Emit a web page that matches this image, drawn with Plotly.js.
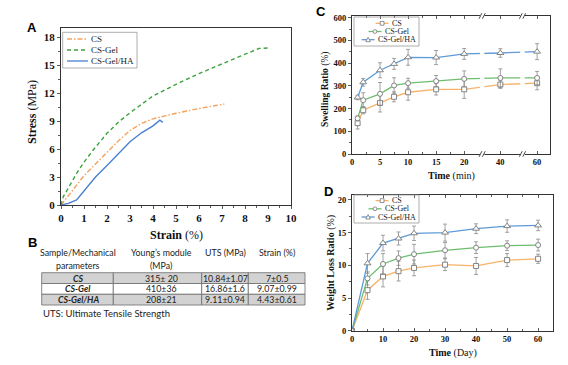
<!DOCTYPE html>
<html><head><meta charset="utf-8">
<script src="https://cdn.plot.ly/plotly-3.0.1.min.js"></script>
<style>html,body{margin:0;padding:0;background:#fff}#chart{width:568px;height:365px}</style>
</head><body><div id="chart"></div>
<script>
// ---------- Panel A: stress-strain ----------
const seriesNames = ['CS', 'CS-Gel', 'CS-Gel/HA'];
const strainCS  = [0, 0.17, 0.5, 1, 1.26, 1.5, 2, 2.5, 3, 3.5, 4, 5, 6, 7, 7.1];
const stressCS  = [0, 0.5, 1.55, 3.15, 3.8, 4.4, 5.6, 6.9, 8.0, 8.75, 9.25, 9.85, 10.35, 10.75, 10.84];
const strainGel = [0, 0.1, 0.5, 0.68, 1, 1.4, 2, 2.5, 3, 3.5, 4, 5, 6, 7, 8, 8.6, 9.07];
const stressGel = [0, 0.9, 2.6, 3.4, 4.6, 5.9, 7.7, 8.9, 9.9, 10.85, 11.7, 12.95, 14.1, 15.15, 16.15, 16.8, 16.86];
const strainHA  = [0, 0.32, 0.68, 1, 1.26, 1.5, 2, 2.64, 3, 3.5, 4, 4.3, 4.38, 4.43];
const stressHA  = [0, 0.18, 0.54, 1.5, 2.34, 3.0, 4.25, 5.9, 6.8, 7.75, 8.5, 9.11, 9.0, 8.85];

// ---------- Panel C: swelling ratio ----------
const swellTime  = [1, 2, 5, 7.5, 10, 15, 20, 40, 60];
const swellTicks = [0, 5, 10, 15, 20, 40, 60];
const swellCS     = [136, 193, 225, 252, 272, 285, 285, 306, 312];
const swellCSErr  = [26, 16, 40, 22, 35, 25, 40, 17, 29];
const swellGel    = [157, 237, 265, 302, 312, 321, 331, 335, 335];
const swellGelErr = [11, 33, 50, 34, 22, 25, 35, 40, 29];
const swellHA     = [249, 316, 369, 397, 426, 425, 441, 445, 451];
const swellHAErr  = [10, 17, 33, 24, 35, 31, 24, 19, 35];

// ---------- Panel D: weight loss ----------
const lossTime   = [0, 5, 10, 15, 20, 30, 40, 50, 60];
const lossCS     = [0, 6.2, 8.3, 9.1, 9.6, 10.1, 9.9, 10.8, 11.0];
const lossCSErr  = [0, 1.4, 1.6, 1.5, 1.2, 0.9, 1.3, 1.0, 0.7];
const lossGel    = [0, 8.0, 10.2, 11.1, 11.7, 12.3, 12.7, 13.0, 13.1];
const lossGelErr = [0, 1.0, 1.6, 1.1, 1.5, 1.2, 0.9, 0.75, 0.9];
const lossHA     = [0, 10.3, 13.4, 14.1, 14.9, 15.0, 15.6, 16.0, 16.1];
const lossHAErr  = [0, 1.5, 1.2, 1.0, 1.1, 1.3, 0.75, 0.95, 0.8];

// ---------- Panel B: table ----------
const tableHead1   = ['Sample/Mechanical', 'Young\u2019s module', 'UTS (MPa)', 'Strain (%)'];
const tableHead2   = ['parameters', '(MPa)', '', ''];
const tableSamples = ['CS', 'CS-Gel', 'CS-Gel/HA'];
const tableYoung   = ['315\u00b1 20', '410\u00b136', '208\u00b121'];
const tableUTS     = ['10.84\u00b11.07', '16.86\u00b11.6', '9.11\u00b10.94'];
const tableStrain  = ['7\u00b10.5', '9.07\u00b10.99', '4.43\u00b10.61'];
const tableNote    = 'UTS: Ultimate Tensile Strength';

// ---------- helpers ----------
const W = 568, H = 365;
const fx = x => x / W, fy = y => 1 - y / H;
const SERIF = 'Liberation Serif, Times New Roman, serif';
const SANS = 'Lato, Liberation Sans, sans-serif';
const cvs = document.createElement('canvas').getContext('2d');
function measure(t, size) { cvs.font = size + 'px "Liberation Serif"'; return cvs.measureText(t).width; }

// broken time axis for panel C (20 -> 40 and 40 -> 60 compressed)
function posC(t) {
  if (t <= 20) return t;
  if (t <= 40) return 20 + (t - 20) * 6.45 / 20;
  return 26.45 + (t - 40) * 6.55 / 20;
}

const colA = ['#F5A25D', '#3DA33D', '#4A80D0'];
const dashA = ['5px,2px,1.5px,2px', '4px,3px', 'solid'];
const colL = ['#F7B26A', '#6DBE6D', '#5E9AD6'];
const symbols = ['square', 'circle', 'triangle-up'];

const traces = [];
[[strainCS, stressCS], [strainGel, stressGel], [strainHA, stressHA]].forEach((s, i) => {
  traces.push({x: s[0], y: s[1], xaxis: 'x', yaxis: 'y', mode: 'lines', name: seriesNames[i],
    line: {color: colA[i], width: 1.4, dash: dashA[i]}, hoverinfo: 'skip'});
});
[[swellCS, swellCSErr], [swellGel, swellGelErr], [swellHA, swellHAErr]].forEach((s, i) => {
  traces.push({x: swellTime.map(posC), y: s[0], xaxis: 'x2', yaxis: 'y2', mode: 'lines+markers', name: seriesNames[i],
    line: {color: colL[i], width: 1.3},
    marker: {symbol: symbols[i], size: i === 2 ? 6 : 5, color: '#fff', line: {color: '#777', width: 0.9}},
    error_y: {type: 'data', array: s[1], visible: true, color: '#8a8a8a', thickness: 0.8, width: 2}, hoverinfo: 'skip'});
});
[[lossCS, lossCSErr], [lossGel, lossGelErr], [lossHA, lossHAErr]].forEach((s, i) => {
  traces.push({x: lossTime, y: s[0], xaxis: 'x3', yaxis: 'y3', mode: 'lines+markers', name: seriesNames[i],
    line: {color: colL[i], width: 1.3},
    marker: {symbol: symbols[i], size: i === 2 ? 6 : 5, color: '#fff', line: {color: '#777', width: 0.9}},
    error_y: {type: 'data', array: s[1], visible: true, color: '#8a8a8a', thickness: 0.8, width: 2}, hoverinfo: 'skip'});
});

function ax(extra) {
  return Object.assign({showgrid: false, zeroline: false, showline: true, linecolor: '#333', linewidth: 1,
    mirror: true, ticks: 'outside', ticklen: 3, tickwidth: 0.8, tickcolor: '#333',
    tickfont: {family: SERIF, size: 8.5, color: '#111', weight: 'bold'}}, extra);
}

const shapes = [], annotations = [];
function note(x, y, text, font, extra) {
  annotations.push(Object.assign({xref: 'paper', yref: 'paper', x: fx(x), y: fy(y), text: text, showarrow: false,
    xanchor: 'center', yanchor: 'middle', borderpad: 0, font: font}, extra || {}));
}

// axis titles
const tf = s => ({family: SERIF, size: s, color: '#111'});
note(176, 235, '<b>Strain</b> (%)', tf(12));
note(32, 112, '<b>Stress</b> (MPa)', tf(12), {textangle: -90});
note(451, 176, '<b>Time</b> (min)', tf(10));
note(325, 90, '<b>Swelling Ratio</b> (%)', tf(9.5), {textangle: -90});
note(453, 353, '<b>Time</b> (Day)', tf(10));
note(331, 262.7, '<b>Weight Loss Ratio</b> (%)', tf(10), {textangle: -90});

// break marks on panel C
[23.2, 30.4].forEach(b => {
  shapes.push({type: 'rect', xref: 'x2', yref: 'y2 domain', x0: b - 0.4, x1: b + 0.4, y0: -0.03, y1: 1.03,
    fillcolor: '#fff', line: {width: 0}, layer: 'above'});
  [0, 1].forEach(yy => {
    [-0.55, 0.05].forEach(o => {
      shapes.push({type: 'line', xref: 'x2', yref: 'y2 domain', x0: b + o, x1: b + o + 0.5, y0: yy - 0.02, y1: yy + 0.02,
        line: {color: '#333', width: 0.9}, layer: 'above'});
    });
  });
});

// legends
function addLegend(box, rowYs, opts) {
  shapes.push({type: 'rect', xref: 'paper', yref: 'paper', x0: fx(box[0]), x1: fx(box[2]), y0: fy(box[3]), y1: fy(box[1]),
    line: {color: '#999', width: 0.8}, fillcolor: 'rgba(255,255,255,0)'});
  seriesNames.forEach((n, i) => {
    const y = rowYs[i];
    let x0 = opts.x0;
    if (opts.cx !== undefined) x0 = opts.cx - (opts.lineLen + opts.gap + measure(n, opts.size)) / 2;
    const x1 = x0 + opts.lineLen;
    shapes.push({type: 'line', xref: 'paper', yref: 'paper', x0: fx(x0), x1: fx(x1), y0: fy(y), y1: fy(y),
      line: {color: opts.colors[i], width: 1.3, dash: opts.dashes ? opts.dashes[i] : 'solid'}});
    if (opts.markers) {
      const c = (x0 + x1) / 2, r = 1.9;
      const st = {line: {color: '#777', width: 0.8}, fillcolor: '#fff', xref: 'paper', yref: 'paper'};
      if (i === 0) shapes.push(Object.assign({type: 'rect', x0: fx(c - r), x1: fx(c + r), y0: fy(y + r), y1: fy(y - r)}, st));
      else if (i === 1) shapes.push(Object.assign({type: 'circle', x0: fx(c - r), x1: fx(c + r), y0: fy(y + r), y1: fy(y - r)}, st));
      else shapes.push(Object.assign({type: 'path', path: 'M' + fx(c - 2.3) + ',' + fy(y + 2) + ' L' + fx(c + 2.3) + ',' + fy(y + 2) + ' L' + fx(c) + ',' + fy(y - 2.4) + ' Z'}, st));
    }
    note(x1 + opts.gap, y, n, {family: SERIF, size: opts.size, color: '#222'}, {xanchor: 'left'});
  });
}
addLegend([62.7, 32.3, 137, 68], [39, 50, 61], {x0: 67, lineLen: 21, gap: 2, size: 9, colors: colA, dashes: dashA});
addLegend([354, 17, 419, 46], [23.3, 31.5, 39.7], {cx: 388, lineLen: 13, gap: 2, size: 8, colors: colL, markers: true});
addLegend([354, 195, 419, 223], [200.6, 208.8, 217], {cx: 388, lineLen: 13, gap: 2, size: 8, colors: colL, markers: true});

// table
const colEdges = [41.7, 113.3, 201.7, 248.3, 305];
const rowEdges = [272.7, 283.5, 294.3, 305];
const colText = [78, 161, 225, 276.5];
const rowFill = ['#d2d2d2', '#ffffff', '#d2d2d2'];
for (let r = 0; r < 3; r++) {
  for (let c = 0; c < 4; c++) {
    shapes.push({type: 'rect', xref: 'paper', yref: 'paper', x0: fx(colEdges[c]), x1: fx(colEdges[c + 1]),
      y0: fy(rowEdges[r + 1]), y1: fy(rowEdges[r]), fillcolor: rowFill[r], line: {color: '#6a6a6a', width: 0.8}});
  }
}
const tableFont = {family: SANS, size: 8.8, color: '#222'};
tableHead1.forEach((t, c) => note(colText[c], 252, t, tableFont));
tableHead2.forEach((t, c) => { if (t) note(colText[c], 265, t, tableFont); });
[tableSamples, tableYoung, tableUTS, tableStrain].forEach((col, c) => {
  col.forEach((t, r) => note(colText[c], (rowEdges[r] + rowEdges[r + 1]) / 2,
    c === 0 ? '<b><i>' + t + '</i></b>' : t, tableFont));
});
note(42, 313.5, tableNote, {family: SANS, size: 9.5, color: '#222'}, {xanchor: 'left'});

// panel letters
[['A', 32, 27], ['B', 32, 242], ['C', 321, 12], ['D', 328, 192]].forEach(p =>
  note(p[1], p[2], '<b>' + p[0] + '</b>', {family: 'Liberation Sans, Arial, sans-serif', size: 13, color: '#000'}));

const layout = {
  width: W, height: H, margin: {l: 0, r: 0, t: 0, b: 0}, paper_bgcolor: '#fff', plot_bgcolor: '#fff',
  showlegend: false,
  xaxis: ax({domain: [fx(61), fx(291)], range: [0, 10], anchor: 'y', dtick: 1, tick0: 0,
    tickfont: {family: SERIF, size: 11, color: '#111', weight: 'bold'},
    minor: {ticks: 'outside', ticklen: 2, dtick: 0.5, tickcolor: '#333'}}),
  yaxis: ax({domain: [fy(205), fy(28)], range: [0, 19], anchor: 'x', dtick: 3, tick0: 0,
    tickfont: {family: SERIF, size: 11, color: '#111', weight: 'bold'},
    minor: {ticks: 'outside', ticklen: 2, dtick: 1.5, tickcolor: '#333'}}),
  xaxis2: ax({domain: [fx(352), fx(550)], range: [0, 35.3], anchor: 'y2', ticks: 'inside', mirror: 'ticks',
    tickvals: swellTicks.map(posC), ticktext: swellTicks.map(String),
    minor: {ticks: 'inside', ticklen: 2, tickvals: [2.5, 7.5, 12.5, 17.5], tickcolor: '#333'}}),
  yaxis2: ax({domain: [fy(154), fy(16)], range: [0, 608], anchor: 'x2', dtick: 100, tick0: 0,
    minor: {ticks: 'outside', ticklen: 2, dtick: 50, tickcolor: '#333'}}),
  xaxis3: ax({domain: [fx(352), fx(552.7)], range: [0, 64.7], anchor: 'y3', dtick: 10, tick0: 0, ticks: 'inside', mirror: 'ticks',
    minor: {ticks: 'inside', ticklen: 2, dtick: 5, tickcolor: '#333'}}),
  yaxis3: ax({domain: [fy(330.7), fy(194.7)], range: [0, 20.8], anchor: 'x3', dtick: 5, tick0: 0,
    minor: {ticks: 'outside', ticklen: 2, dtick: 2.5, tickcolor: '#333'}}),
  shapes: shapes, annotations: annotations
};

Plotly.newPlot('chart', traces, layout, {displayModeBar: false, staticPlot: true});
</script>
</body></html>
